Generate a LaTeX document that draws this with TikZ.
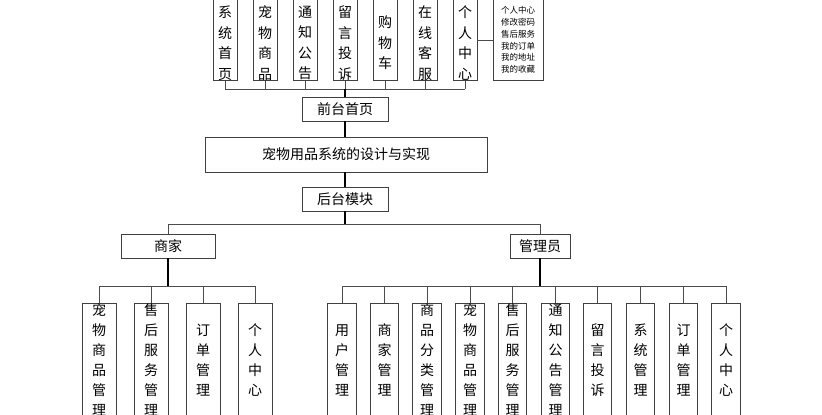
\documentclass[tikz,border=0pt]{standalone}
\usepackage{fontspec}
\setmainfont{Noto Sans CJK SC}
\begin{document}
\begin{tikzpicture}[x=1pt,y=-1pt,
  bx/.style={draw=black!75,line width=0.9pt,inner sep=0pt,align=center,font=\fontsize{14}{20}\selectfont},
  tx/.style={inner sep=0pt,align=center,font=\fontsize{14}{20.5}\selectfont},
  ln/.style={draw=black!70,line width=0.9pt},
  tk/.style={draw=black,line width=1.4pt}]
\useasboundingbox (0,0) rectangle (822,415);
\clip (0,0) rectangle (822,415);
% top boxes
\foreach \n/\x/\t in {t1/225/系\\统\\首\\页, t2/265/宠\\物\\商\\品, t3/305/通\\知\\公\\告, t4/345/留\\言\\投\\诉, t5/385/购\\物\\车, t6/425/在\\线\\客\\服, t7/465/个\\人\\中\\心}
  {\node[bx,minimum width=24pt,minimum height=86pt,anchor=south] (\n) at (\x,81) {};
   \node[tx] (\n l) at (\x,43) {\t};}
\node[bx,minimum width=50pt,minimum height=86pt,anchor=south] (tr) at (518,81) {};
\node[tx,font=\fontsize{8.5}{11.8}\selectfont] (trl) at (518,40) {个人中心\\修改密码\\售后服务\\我的订单\\我的地址\\我的收藏};
\draw[ln] (t7.east|-0,40) -- (tr.west|-0,40);
\node[bx,minimum width=86pt,minimum height=24pt] (qt) at (345,109) {前台首页};
\node[bx,minimum width=282pt,minimum height=35pt] (main) at (346,154.5) {宠物用品系统的设计与实现};
\node[bx,minimum width=86pt,minimum height=24pt] (ht) at (345,199) {后台模块};
\foreach \n in {t1,t2,t3,t4,t5,t6,t7} \draw[ln] (\n.south) -- (\n.south|-0,89);
\draw[ln] (t1.south|-0,89) -- (t7.south|-0,89);
\draw[tk] (qt.north) -- (qt.north|-0,89);
\draw[tk] (qt.south) -- (main.north-|qt.south);
\draw[tk] (main.south-|ht.north) -- (ht.north);
% level 2
\node[bx,minimum width=94pt,minimum height=24pt] (sj) at (168,246) {商家};
\node[bx,minimum width=60pt,minimum height=24pt] (gl) at (540,246) {管理员};
\draw[tk] (ht.south) -- (ht.south|-0,224);
\draw[ln] (sj.north) -- (sj.north|-0,224) -- (gl.north|-0,224) -- (gl.north);
% merchant children
\foreach \n/\x/\t in {m1/99/宠\\物\\商\\品\\管\\理, m2/151/售\\后\\服\\务\\管\\理, m3/203/订\\单\\管\\理, m4/255/个\\人\\中\\心}
  {\node[bx,minimum width=34pt,minimum height=114pt] (\n) at (\x,360) {\t};
   \draw[ln] (\n.north) -- (\n.north|-0,286);}
\draw[ln] (m1.north|-0,286) -- (m4.north|-0,286);
\draw[tk] (sj.south) -- (sj.south|-0,286);
% admin children
\foreach \n/\x/\t in {a1/342/用\\户\\管\\理, a2/384.5/商\\家\\管\\理, a3/427/商\\品\\分\\类\\管\\理, a4/470/宠\\物\\商\\品\\管\\理, a5/512.5/售\\后\\服\\务\\管\\理, a6/555.5/通\\知\\公\\告\\管\\理, a7/597.5/留\\言\\投\\诉, a8/640.5/系\\统\\管\\理, a9/683.5/订\\单\\管\\理, a10/726/个\\人\\中\\心}
  {\node[bx,minimum width=28.5pt,minimum height=114pt] (\n) at (\x,360) {\t};
   \draw[ln] (\n.north) -- (\n.north|-0,286);}
\draw[ln] (a1.north|-0,286) -- (a10.north|-0,286);
\draw[tk] (gl.south) -- (gl.south|-0,286);
\end{tikzpicture}
\end{document}
